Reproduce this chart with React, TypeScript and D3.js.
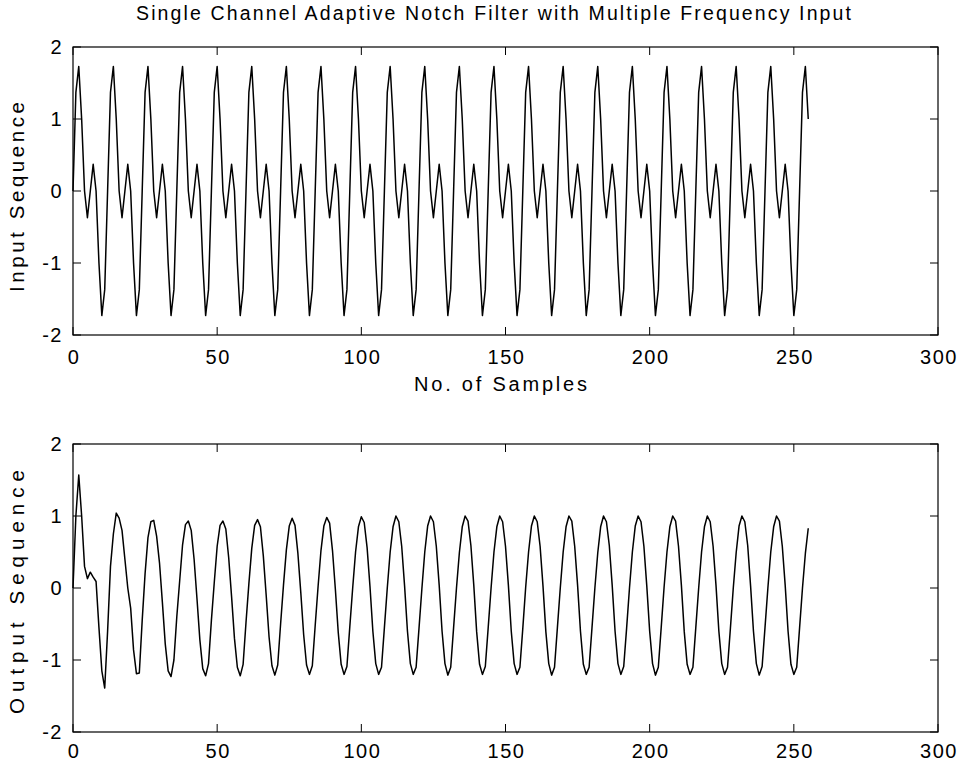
import React from "react";
import * as d3 from "d3";

const titleText = "Single Channel Adaptive Notch Filter with Multiple Frequency Input";
const xLabelTop = "No. of Samples";
const yLabelTop = "Input Sequence";
const yLabelBottom = "Output Sequence";

const xTicks = [0, 50, 100, 150, 200, 250, 300];
const yTicks = [-2, -1, 0, 1, 2];

// Input sequence (samples 0..255)
const inputSeq = [
  0, 1.37, 1.73, 1, 0, -0.37, 0, 0.37, 0, -1, -1.73, -1.37,
  0, 1.37, 1.73, 1, 0, -0.37, 0, 0.37, 0, -1, -1.73, -1.37,
  0, 1.37, 1.73, 1, 0, -0.37, 0, 0.37, 0, -1, -1.73, -1.37,
  0, 1.37, 1.73, 1, 0, -0.37, 0, 0.37, 0, -1, -1.73, -1.37,
  0, 1.37, 1.73, 1, 0, -0.37, 0, 0.37, 0, -1, -1.73, -1.37,
  0, 1.37, 1.73, 1, 0, -0.37, 0, 0.37, 0, -1, -1.73, -1.37,
  0, 1.37, 1.73, 1, 0, -0.37, 0, 0.37, 0, -1, -1.73, -1.37,
  0, 1.37, 1.73, 1, 0, -0.37, 0, 0.37, 0, -1, -1.73, -1.37,
  0, 1.37, 1.73, 1, 0, -0.37, 0, 0.37, 0, -1, -1.73, -1.37,
  0, 1.37, 1.73, 1, 0, -0.37, 0, 0.37, 0, -1, -1.73, -1.37,
  0, 1.37, 1.73, 1, 0, -0.37, 0, 0.37, 0, -1, -1.73, -1.37,
  0, 1.37, 1.73, 1, 0, -0.37, 0, 0.37, 0, -1, -1.73, -1.37,
  0, 1.37, 1.73, 1, 0, -0.37, 0, 0.37, 0, -1, -1.73, -1.37,
  0, 1.37, 1.73, 1, 0, -0.37, 0, 0.37, 0, -1, -1.73, -1.37,
  0, 1.37, 1.73, 1, 0, -0.37, 0, 0.37, 0, -1, -1.73, -1.37,
  0, 1.37, 1.73, 1, 0, -0.37, 0, 0.37, 0, -1, -1.73, -1.37,
  0, 1.37, 1.73, 1, 0, -0.37, 0, 0.37, 0, -1, -1.73, -1.37,
  0, 1.37, 1.73, 1, 0, -0.37, 0, 0.37, 0, -1, -1.73, -1.37,
  0, 1.37, 1.73, 1, 0, -0.37, 0, 0.37, 0, -1, -1.73, -1.37,
  0, 1.37, 1.73, 1, 0, -0.37, 0, 0.37, 0, -1, -1.73, -1.37,
  0, 1.37, 1.73, 1, 0, -0.37, 0, 0.37, 0, -1, -1.73, -1.37,
  0, 1.37, 1.73, 1,
];

// Output sequence (samples 0..255)
const outputSeq = [
  0, 1.0, 1.57, 1.0, 0.3, 0.13, 0.22, 0.15, 0.09, -0.55, -1.15, -1.39,
  -0.6, 0.3, 0.75, 1.04, 0.97, 0.8, 0.4, 0.0, -0.28, -0.86, -1.19, -1.18,
  -0.45, 0.2, 0.7, 0.92, 0.94, 0.72, 0.35, -0.2, -0.78, -1.15, -1.23, -1.0,
  -0.4, 0.1, 0.6, 0.88, 0.93, 0.8, 0.4, -0.15, -0.72, -1.12, -1.22, -1.05,
  -0.45, 0.08, 0.58, 0.87, 0.93, 0.82, 0.42, -0.12, -0.7, -1.1, -1.22, -1.06,
  -0.48, 0.06, 0.55, 0.87, 0.95, 0.85, 0.45, -0.1, -0.68, -1.08, -1.21, -1.07,
  -0.5, 0.04, 0.53, 0.86, 0.97, 0.87, 0.48, -0.06, -0.65, -1.07, -1.2, -1.08,
  -0.52, 0.02, 0.52, 0.86, 0.98, 0.9, 0.52, -0.02, -0.62, -1.06, -1.2, -1.09,
  -0.54, 0.0, 0.5, 0.85, 0.99, 0.91, 0.56, 0.02, -0.6, -1.05, -1.2, -1.1,
  -0.55, 0.0, 0.5, 0.85, 1.0, 0.92, 0.58, 0.03, -0.6, -1.05, -1.2, -1.1,
  -0.56, -0.01, 0.5, 0.86, 1.0, 0.92, 0.58, 0.04, -0.6, -1.05, -1.21, -1.1,
  -0.55, 0.0, 0.49, 0.85, 1.0, 0.93, 0.59, 0.04, -0.61, -1.06, -1.2, -1.09,
  -0.55, 0.0, 0.5, 0.85, 1.0, 0.92, 0.58, 0.04, -0.6, -1.05, -1.2, -1.1,
  -0.56, 0.01, 0.5, 0.86, 1.0, 0.92, 0.58, 0.03, -0.61, -1.05, -1.21, -1.1,
  -0.55, 0.0, 0.5, 0.85, 1.0, 0.93, 0.58, 0.04, -0.6, -1.06, -1.2, -1.1,
  -0.55, 0.0, 0.49, 0.85, 1.0, 0.92, 0.59, 0.04, -0.6, -1.05, -1.2, -1.09,
  -0.56, 0.0, 0.5, 0.86, 1.0, 0.92, 0.58, 0.03, -0.6, -1.05, -1.21, -1.1,
  -0.55, 0.01, 0.5, 0.85, 1.0, 0.93, 0.58, 0.04, -0.61, -1.06, -1.2, -1.1,
  -0.55, 0.0, 0.5, 0.85, 1.0, 0.92, 0.58, 0.04, -0.6, -1.05, -1.2, -1.1,
  -0.56, 0.0, 0.49, 0.86, 1.0, 0.92, 0.59, 0.03, -0.6, -1.05, -1.21, -1.09,
  -0.55, 0.0, 0.5, 0.85, 1.0, 0.93, 0.58, 0.04, -0.6, -1.06, -1.2, -1.1,
  -0.55, 0.0, 0.48, 0.83,
];

const W = 960;
const H = 763;
const FONT = "'Liberation Sans', Arial, Helvetica, sans-serif";
const LEFT = 73;
const RIGHT = 938;
const TICK = 8;

type PanelProps = {
  data: number[];
  top: number;
  bottom: number;
  labelOffset: number;
};

function Panel({ data, top, bottom, labelOffset }: PanelProps) {
  const x = d3.scaleLinear().domain([0, 300]).range([LEFT, RIGHT]);
  const y = d3.scaleLinear().domain([-2, 2]).range([bottom, top]);
  const line = d3
    .line<number>()
    .x((_, i) => x(i))
    .y((d) => y(d));
  return (
    <g>
      <path d={line(data) || ""} fill="none" stroke="#000" strokeWidth={1.5} strokeLinejoin="round" />
      <rect x={LEFT} y={top} width={RIGHT - LEFT} height={bottom - top} fill="none" stroke="#000" strokeWidth={1.2} />
      {xTicks.map((t) => (
        <g key={"x" + t}>
          <line x1={x(t)} x2={x(t)} y1={bottom} y2={bottom - TICK} stroke="#000" strokeWidth={1} />
          <line x1={x(t)} x2={x(t)} y1={top} y2={top + TICK} stroke="#000" strokeWidth={1} />
          <text
            x={x(t) + 1}
            y={bottom + labelOffset}
            textAnchor="middle"
            fontFamily={FONT}
            fontSize={20}
            letterSpacing={1.5}
            fill="#000"
          >
            {t}
          </text>
        </g>
      ))}
      {yTicks.map((t) => (
        <g key={"y" + t}>
          <line x1={LEFT} x2={LEFT + TICK} y1={y(t)} y2={y(t)} stroke="#000" strokeWidth={1} />
          <line x1={RIGHT} x2={RIGHT - TICK} y1={y(t)} y2={y(t)} stroke="#000" strokeWidth={1} />
          <text
            x={63}
            y={y(t) + 7}
            textAnchor="end"
            fontFamily={FONT}
            fontSize={20}
            letterSpacing={1.5}
            fill="#000"
          >
            {t}
          </text>
        </g>
      ))}
    </g>
  );
}

export default function App() {
  return (
    <svg
      width={W}
      height={H}
      viewBox={`0 0 ${W} ${H}`}
      style={{ position: "absolute", left: 0, top: 0, background: "#fff" }}
    >
      <rect x={0} y={0} width={W} height={H} fill="#fff" />
      <text
        x={136}
        y={20}
        fontFamily={FONT}
        fontSize={19.5}
        textLength={715}
        lengthAdjust="spacing"
        fill="#000"
      >
        {titleText}
      </text>
      <Panel data={inputSeq} top={47} bottom={335} labelOffset={29} />
      <Panel data={outputSeq} top={444} bottom={732} labelOffset={26} />
      <text
        x={414}
        y={391}
        fontFamily={FONT}
        fontSize={20}
        textLength={173}
        lengthAdjust="spacing"
        fill="#000"
      >
        {xLabelTop}
      </text>
      <text
        transform={`translate(24, 292) rotate(-90)`}
        fontFamily={FONT}
        fontSize={20.5}
        textLength={190}
        lengthAdjust="spacing"
        fill="#000"
      >
        {yLabelTop}
      </text>
      <text
        transform={`translate(24, 714) rotate(-90)`}
        fontFamily={FONT}
        fontSize={20.5}
        textLength={244}
        lengthAdjust="spacing"
        fill="#000"
      >
        {yLabelBottom}
      </text>
    </svg>
  );
}
